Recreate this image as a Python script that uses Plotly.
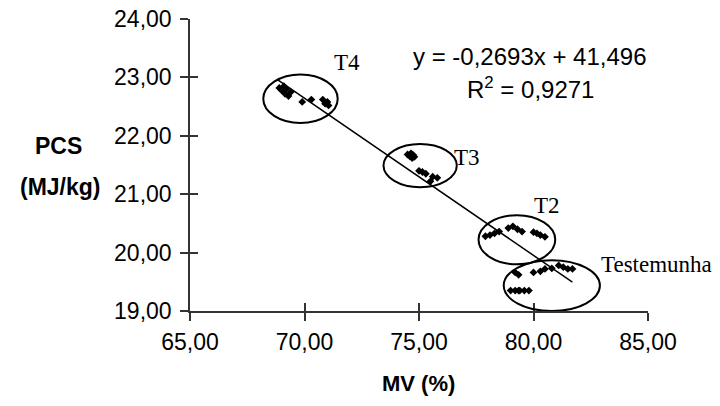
import numpy as np
import plotly.graph_objects as go

# Data
t4_mv = [68.9, 69.0, 69.1, 69.15, 69.2, 69.3, 69.4, 69.9, 70.3, 70.8, 70.9, 71.0, 71.05]
t4_pcs = [22.82, 22.78, 22.85, 22.72, 22.80, 22.68, 22.75, 22.58, 22.62, 22.62, 22.55, 22.58, 22.52]
t3_mv = [74.5, 74.6, 74.65, 74.7, 74.75, 74.8, 75.0, 75.15, 75.3, 75.5, 75.6, 75.8]
t3_pcs = [21.68, 21.65, 21.70, 21.62, 21.67, 21.64, 21.40, 21.38, 21.35, 21.22, 21.30, 21.28]
t2_mv = [77.9, 78.1, 78.3, 78.5, 78.9, 79.1, 79.3, 79.5, 80.0, 80.15, 80.3, 80.5]
t2_pcs = [20.28, 20.30, 20.33, 20.36, 20.42, 20.45, 20.40, 20.36, 20.35, 20.33, 20.30, 20.27]
tw_mv = [79.0, 79.2, 79.35, 79.4, 79.6, 79.8, 79.2, 79.35, 80.0, 80.3, 80.5, 80.8, 81.1, 81.3, 81.5, 81.7]
tw_pcs = [19.35, 19.35, 19.35, 19.35, 19.35, 19.35, 19.66, 19.62, 19.66, 19.68, 19.72, 19.73, 19.78, 19.75, 19.72, 19.72]

slope = -0.2693
intercept = 41.496
r2 = 0.9271

x_ticks = [65, 70, 75, 80, 85]
y_ticks = [19, 20, 21, 22, 23, 24]

all_mv = np.array(t4_mv + t3_mv + t2_mv + tw_mv)
all_pcs = np.array(t4_pcs + t3_pcs + t2_pcs + tw_pcs)

# plot area in page pixels
L, R, T, B = 190, 648, 19, 311
W, H = R - L, B - T


def px(xp):
    return (xp - L) / W


def py(yp):
    return (B - yp) / H


fig = go.Figure()
fig.add_trace(go.Scatter(
    x=all_mv, y=all_pcs, mode="markers",
    marker=dict(symbol="diamond", size=6, color="black"),
    showlegend=False, hoverinfo="skip"))

line_x = np.array([all_mv.min() - 0.1, all_mv.max()])
fig.add_trace(go.Scatter(
    x=line_x, y=slope * line_x + intercept, mode="lines",
    line=dict(color="black", width=1.5), showlegend=False, hoverinfo="skip"))

# invisible trace for crossing (inside) ticks
fig.add_trace(go.Scatter(x=[None], y=[None], xaxis="x2", yaxis="y2",
                         showlegend=False, hoverinfo="skip"))

# Ellipses around the groups
ellipses = [
    (68.2, 22.22, 71.45, 23.05),
    (73.45, 21.12, 76.65, 21.86),
    (77.6, 19.80, 80.95, 20.64),
    (78.7, 19.0, 82.9, 19.87),
]
for x0, y0, x1, y1 in ellipses:
    fig.add_shape(type="circle", xref="x", yref="y", x0=x0, y0=y0, x1=x1, y1=y1,
                  line=dict(color="black", width=2), layer="above")

serif = dict(family="Liberation Serif, Times New Roman, serif", size=23, color="black")
labels = [("T4", 71.85, 23.26, "center"), ("T3", 77.1, 21.63, "center"),
          ("T2", 80.6, 20.8, "center"), ("Testemunha", 82.85, 19.8, "left")]
for txt, lx, ly, anc in labels:
    fig.add_annotation(x=lx, y=ly, xref="x", yref="y", text=txt, showarrow=False,
                       font=serif, xanchor=anc, yanchor="middle")

sans = dict(family="Liberation Sans, Arial, sans-serif", size=24, color="black")
eq = "y = -" + f"{-slope:.4f}".replace(".", ",") + "x + " + f"{intercept:.3f}".replace(".", ",")
fig.add_annotation(x=px(530), y=py(57), xref="paper", yref="paper", text=eq,
                   showarrow=False, font=sans, xanchor="center", yanchor="middle")
fig.add_annotation(x=px(530), y=py(88), xref="paper", yref="paper",
                   text="R<sup>2</sup> = " + f"{r2:.4f}".replace(".", ","), showarrow=False,
                   font=sans, xanchor="center", yanchor="middle")

bold = dict(family="Liberation Sans, Arial, sans-serif", size=23, color="black")
fig.add_annotation(x=px(58), y=py(146), xref="paper", yref="paper",
                   text="<b>PCS</b>", showarrow=False, font=bold, xanchor="center", yanchor="middle")
fig.add_annotation(x=px(60), y=py(187), xref="paper", yref="paper",
                   text="<b>(MJ/kg)</b>", showarrow=False, font=bold, xanchor="center", yanchor="middle")
fig.add_annotation(x=px(418), y=py(383), xref="paper", yref="paper",
                   text="<b>MV (%)</b>", showarrow=False, font=dict(bold, size=22),
                   xanchor="center", yanchor="middle")

axis_common = dict(showgrid=False, zeroline=False, showline=True, linecolor="#333",
                   linewidth=1.5, tickcolor="#333", tickwidth=1.5, ticklen=8,
                   tickfont=dict(family="Liberation Sans, Arial, sans-serif", size=23, color="black"),
                   tickformat=".2f", automargin=False, ticklabeloverflow="allow")

fig.update_layout(
    width=720, height=406,
    margin=dict(l=L, r=720 - R, t=T, b=406 - B, pad=0),
    paper_bgcolor="white", plot_bgcolor="white", separators=", ",
    xaxis=dict(range=[65, 85], tickvals=x_ticks, ticks="outside", ticklabelstandoff=2, **axis_common),
    yaxis=dict(range=[19, 24], tickvals=y_ticks, ticks="outside", ticklabelstandoff=4, **axis_common),
    xaxis2=dict(range=[65, 85], tickvals=x_ticks, ticks="inside", overlaying="x",
                showticklabels=False, showgrid=False, zeroline=False, showline=False,
                tickcolor="#333", tickwidth=1.5, ticklen=8, automargin=False),
    yaxis2=dict(range=[19, 24], tickvals=y_ticks, ticks="inside", overlaying="y",
                showticklabels=False, showgrid=False, zeroline=False, showline=False,
                tickcolor="#333", tickwidth=1.5, ticklen=8, automargin=False),
)

fig.write_html("out.html", config={"displayModeBar": False},
               post_script="document.body.style.margin='0px';document.body.style.padding='0px';")
